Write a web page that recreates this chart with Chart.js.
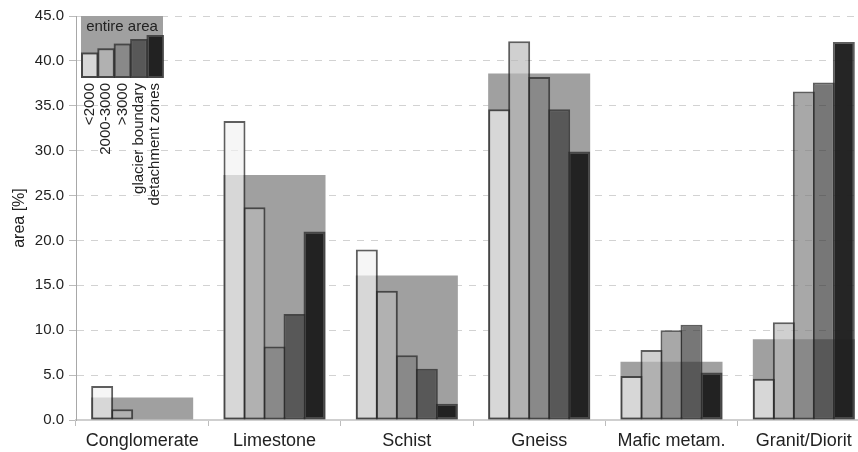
<!DOCTYPE html>
<html>
<head>
<meta charset="utf-8">
<script src="https://cdn.jsdelivr.net/npm/chart.js@4.4.1/dist/chart.umd.min.js"></script>
<style>
  html, body { margin: 0; padding: 0; background: #fff; overflow: hidden; }
  #wrap { width: 872px; height: 452px; }
</style>
</head>
<body>
<div id="wrap"><canvas id="c" width="872" height="452"></canvas></div>
<script>
// Share of each rock type (%) per zone, and for the entire area
const categories = ['Conglomerate', 'Limestone', 'Schist', 'Gneiss', 'Mafic metam.', 'Granit/Diorit'];
const zoneLabels = ['<2000', '2000-3000', '>3000', 'glacier boundary', 'detachment zones'];
const below2000 = [3.8, 33.3, 19.0, 34.6, 4.9, 4.6];
const from2000to3000 = [1.2, 23.7, 14.4, 42.2, 7.8, 10.9];
const above3000 = [0, 8.2, 7.2, 38.2, 10.0, 36.6];
const glacierBoundary = [0, 11.8, 5.7, 34.6, 10.6, 37.6];
const detachmentZones = [0, 21.0, 1.8, 29.9, 5.3, 42.1];
const entireArea = [2.5, 27.3, 16.1, 38.6, 6.5, 9.0];
const yTickLabels = ['0.0', '5.0', '10.0', '15.0', '20.0', '25.0', '30.0', '35.0', '40.0', '45.0'];

const FONT = '"Liberation Sans", Arial, Helvetica, sans-serif';
const TEXT = '#222';
const AREA_FILL = '#a0a0a0';
const zoneFills = [
  'rgba(242,242,242,0.67)',
  'rgba(185,185,185,0.67)',
  'rgba(125,125,125,0.67)',
  'rgba(52,52,52,0.67)',
  'rgba(30,30,30,0.97)'
];
const zoneEdge = 'rgba(40,40,40,0.75)';

const zoneSeries = [below2000, from2000to3000, above3000, glacierBoundary, detachmentZones];

const datasets = zoneSeries.map((values, i) => ({
  label: zoneLabels[i],
  data: values,
  backgroundColor: zoneFills[i],
  borderColor: zoneEdge,
  borderWidth: 2,
  borderSkipped: false,
  inflateAmount: 0,
  categoryPercentage: 0.7557,
  barPercentage: 1.1,
  order: 0
}));
// Entire-area block sits behind each group and spans its full width
datasets.push({
  label: 'entire area',
  data: entireArea,
  backgroundColor: AREA_FILL,
  borderWidth: 0,
  inflateAmount: 0,
  grouped: false,
  categoryPercentage: 0.771,
  barPercentage: 1,
  order: 1
});

// Key in the top-left corner: grey "entire area" block with one small bar per zone
const zoneKey = {
  id: 'zoneKey',
  afterDraw(chart) {
    const { ctx, chartArea } = chart;
    const x0 = chartArea.left + 5;
    const y0 = chartArea.top;
    const w = 82, h = 62;
    const bw = w / 5;
    const keyHeights = [25.5, 29.7, 34.4, 39, 43];
    ctx.save();
    ctx.fillStyle = AREA_FILL;
    ctx.fillRect(x0, y0, w, h);
    ctx.fillStyle = TEXT;
    ctx.font = '15px ' + FONT;
    ctx.textAlign = 'center';
    ctx.textBaseline = 'middle';
    ctx.fillText('entire area', x0 + w / 2, y0 + 11);
    keyHeights.forEach((kh, i) => {
      const bx = x0 + i * bw;
      const by = y0 + h - kh;
      ctx.fillStyle = zoneEdge;
      ctx.fillRect(bx, by, bw + 1, kh);
      ctx.fillStyle = AREA_FILL;
      ctx.fillRect(bx + 2, by + 2, bw - 3, kh - 4);
      ctx.fillStyle = zoneFills[i];
      ctx.fillRect(bx + 2, by + 2, bw - 3, kh - 4);
    });
    ctx.fillStyle = TEXT;
    ctx.font = '15px ' + FONT;
    ctx.textAlign = 'right';
    ctx.textBaseline = 'middle';
    zoneLabels.forEach((lab, i) => {
      ctx.save();
      ctx.translate(x0 + i * bw + bw / 2 + 0.5, y0 + h + 5);
      ctx.rotate(-Math.PI / 2);
      ctx.fillText(lab, 0, 0);
      ctx.restore();
    });
    ctx.restore();
  }
};

new Chart(document.getElementById('c'), {
  type: 'bar',
  data: { labels: categories, datasets },
  options: {
    responsive: false,
    animation: false,
    devicePixelRatio: 1,
    layout: { padding: { top: 16, right: 2, bottom: 0, left: 0 } },
    plugins: { legend: { display: false }, tooltip: { enabled: false } },
    scales: {
      x: {
        type: 'category',
        offset: true,
        grid: { offset: true, drawOnChartArea: false, drawTicks: true, tickLength: 6, color: '#bdbdbd' },
        border: { color: '#cfcfcf', width: 2 },
        ticks: { font: { size: 18, family: FONT }, color: TEXT, padding: 4, maxRotation: 0, autoSkip: false },
        afterFit(s) { s.height = 32; }
      },
      y: {
        min: 0,
        max: 45,
        ticks: {
          stepSize: 5,
          font: { size: 15, family: FONT },
          color: TEXT,
          padding: 5,
          callback: (v, i) => yTickLabels[i]
        },
        grid: { color: '#d2d2d2', tickLength: 7, tickColor: '#bbbbbb' },
        border: { color: '#a8a8a8', width: 1, dash: [7, 7] },
        title: { display: true, text: 'area [%]', font: { size: 16, family: FONT }, color: TEXT, padding: { top: 10, bottom: 0 } },
        afterFit(s) { s.width = 76; }
      }
    }
  },
  plugins: [zoneKey]
});
</script>
</body>
</html>
